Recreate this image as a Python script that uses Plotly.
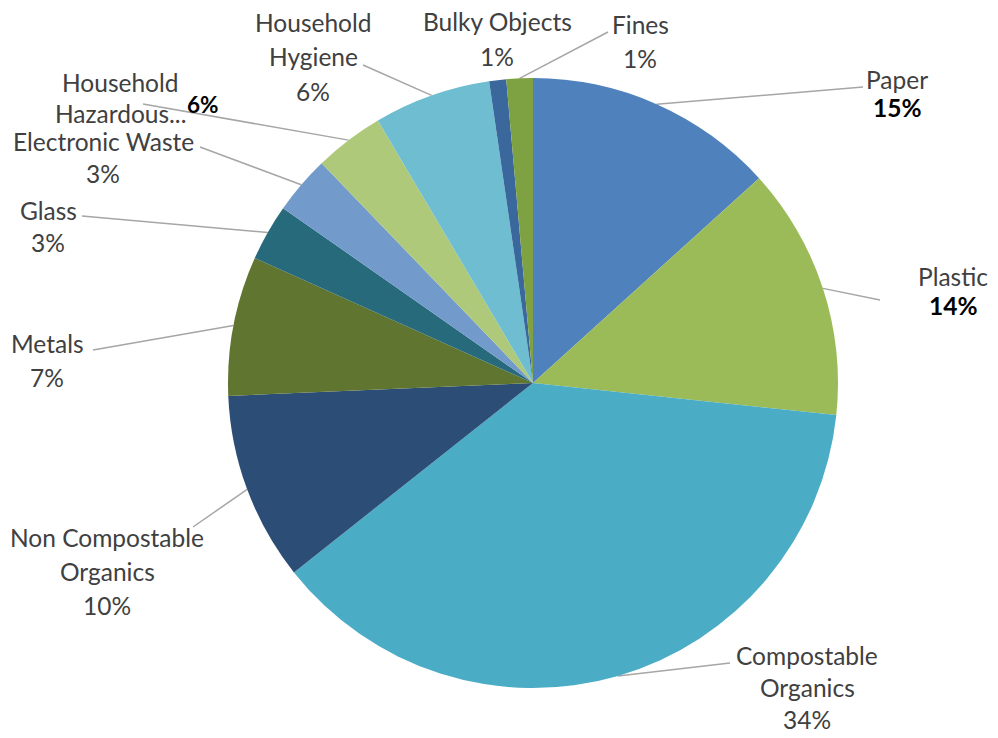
import numpy as np
import plotly.graph_objects as go

# ---- data ----
categories = ["Paper", "Plastic", "Compostable Organics", "Non Compostable Organics",
              "Metals", "Glass", "Electronic Waste", "Household Hazardous...",
              "Household Hygiene", "Bulky Objects", "Fines"]
# slice shares as drawn (measured from slice angles)
shares = [13.3, 13.4, 37.7, 10.0, 7.4, 3.0, 3.1, 3.7, 6.2, 0.9, 1.4]
# percentages as printed on the labels
printed_pct = ["15%", "14%", "34%", "10%", "7%", "3%", "3%", "6%", "6%", "1%", "1%"]

colors = ["#4F81BD", "#9BBB59", "#4BACC6", "#2C4D75", "#5F7530", "#276A7C",
          "#729ACA", "#AFC97A", "#6FBDD1", "#3A679C", "#7EA142"]

# ---- layout / style ----
OFF = 8                      # page body margin of the browser
W, H = 998, 738
CX, CY, R = 533, 383, 305    # in target picture pixels
FONT = "Lato"
FS = 24.5
TXT = "#404040"

# label text lines per slice (name lines), bold-percentage flag
name_lines = [["Paper"], ["Plastic"], ["Compostable", "Organics"],
              ["Non Compostable", "Organics"], ["Metals"], ["Glass"],
              ["Electronic Waste"], ["Household", "Hazardous..."],
              ["Household", "Hygiene"], ["Bulky Objects"], ["Fines"]]
bold_pct = [True, True, False, False, False, False, False, True, False, False, False]
# label placement: centre x, first line y, line gap (target pixels)
label_pos = [(897, 80, 27), (953, 277, 28), (807, 655, 32), (107, 537, 34),
             (47, 343, 35), (48, 210, 32), (103, 141, 32), (120, 82, 31),
             (313, 23, 34), (497, 22, 34), (640, 25, 33)]
# leader-line end near each label (None = no leader line)
leader_end = [(863, 87), (880, 300), (730, 663), (193, 527), (93, 350),
              (82, 216), (200, 147), (143, 104), (363, 65), None, (608, 32)]
hazard_pct_pos = (203, 104)

def px2paper(x, y):
    return (x - OFF) / W, 1 - (y - OFF) / H

fig = go.Figure()
dx0, dy1 = px2paper(CX - R, CY - R)
dx1, dy0 = px2paper(CX + R, CY + R)
fig.add_trace(go.Pie(
    labels=categories, values=shares, sort=False, direction="clockwise",
    rotation=0, textinfo="none", hoverinfo="label+percent",
    marker=dict(colors=colors, line=dict(width=0)),
    domain=dict(x=[dx0, dx1], y=[dy0, dy1]),
    showlegend=False,
))

vals = np.array(shares, dtype=float)
cum = np.cumsum(vals)
mid_deg = (cum - vals / 2) / vals.sum() * 360.0

annotations = []
shapes = []
for i, cat in enumerate(categories):
    cx, y0, gap = label_pos[i]
    texts = [(l, False, TXT) for l in name_lines[i]]
    if i != 7:
        texts.append((printed_pct[i], bold_pct[i], "#000000" if bold_pct[i] else TXT))
    for k, (t, b, col) in enumerate(texts):
        x, y = px2paper(cx, y0 + k * gap)
        annotations.append(dict(
            x=x, y=y, xref="paper", yref="paper", showarrow=False,
            text=f"<b>{t}</b>" if b else t, xanchor="center", yanchor="middle",
            font=dict(family=FONT, size=FS, color=col)))
    if i == 7:
        x, y = px2paper(*hazard_pct_pos)
        annotations.append(dict(
            x=x, y=y, xref="paper", yref="paper", showarrow=False,
            text=f"<b>{printed_pct[i]}</b>", xanchor="center", yanchor="middle",
            font=dict(family=FONT, size=FS - 2, color="#000000")))
    if leader_end[i] is not None:
        a = np.deg2rad(mid_deg[i])
        ex, ey = CX + R * np.sin(a), CY - R * np.cos(a)
        x0, y0p = px2paper(ex, ey)
        x1, y1p = px2paper(*leader_end[i])
        shapes.append(dict(type="line", xref="paper", yref="paper",
                           x0=x0, y0=y0p, x1=x1, y1=y1p,
                           line=dict(color="#A6A6A6", width=1.5), layer="below"))

fig.update_layout(
    width=W, height=H, margin=dict(l=0, r=0, t=0, b=0),
    paper_bgcolor="white", plot_bgcolor="white",
    annotations=annotations, shapes=shapes,
    font=dict(family=FONT, color=TXT),
)
fig.write_html("out.html")
